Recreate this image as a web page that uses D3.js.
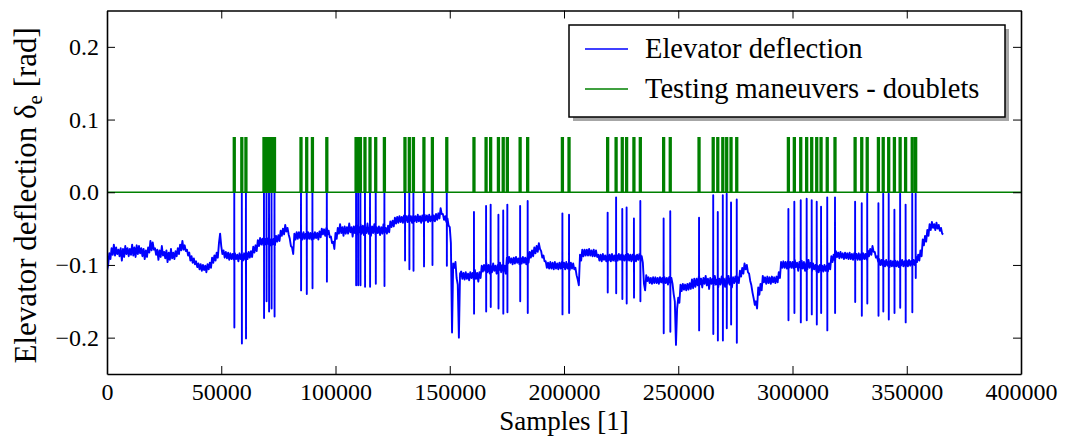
<!DOCTYPE html>
<html>
<head>
<meta charset="utf-8">
<script src="https://cdn.jsdelivr.net/npm/d3@7"></script>
<style>
  html, body { margin: 0; padding: 0; background: #ffffff; }
  svg { display: block; }
  text { font-family: "Liberation Serif", "Times New Roman", serif; fill: #000; }
</style>
</head>
<body>
<svg id="chart" width="1065" height="438"></svg>
<script>
// ---------------- DATA ----------------
const seriesNames = ["Elevator deflection", "Testing maneuvers - doublets"];
const xTickValues = [0, 50000, 100000, 150000, 200000, 250000, 300000, 350000, 400000];
const yTickValues = [-0.2, -0.1, 0.0, 0.1, 0.2];
const yTickLabels = ["\u22120.2", "\u22120.1", "0.0", "0.1", "0.2"];

// elevator deflection, one reading every 500 samples, starting at sample 0
const elevatorStep = 500;
const elevatorValues = [
  -0.108,-0.100,-0.084,-0.092,-0.077,-0.086,-0.072,-0.087,-0.076,-0.085,
  -0.079,-0.088,-0.077,-0.094,-0.078,-0.089,-0.074,-0.085,-0.077,-0.088,
  -0.078,-0.086,-0.072,-0.087,-0.076,-0.089,-0.073,-0.085,-0.074,-0.084,
  -0.077,-0.088,-0.078,-0.092,-0.080,-0.089,-0.076,-0.083,-0.067,-0.080,
  -0.069,-0.079,-0.077,-0.086,-0.079,-0.093,-0.080,-0.089,-0.074,-0.087,
  -0.082,-0.091,-0.080,-0.096,-0.083,-0.093,-0.078,-0.091,-0.083,-0.092,
  -0.081,-0.088,-0.077,-0.085,-0.072,-0.080,-0.067,-0.079,-0.073,-0.081,
  -0.079,-0.087,-0.083,-0.094,-0.088,-0.097,-0.091,-0.099,-0.095,-0.103,
  -0.098,-0.106,-0.099,-0.108,-0.100,-0.107,-0.101,-0.110,-0.099,-0.106,
  -0.097,-0.104,-0.090,-0.097,-0.087,-0.094,-0.083,-0.090,-0.070,-0.057,
  -0.074,-0.085,-0.080,-0.090,-0.082,-0.091,-0.083,-0.093,-0.084,-0.092,
  -0.085,-0.093,-0.084,-0.092,-0.086,-0.095,-0.084,-0.092,-0.085,-0.094,
  -0.084,-0.093,-0.083,-0.092,-0.082,-0.090,-0.081,-0.089,-0.075,-0.083,
  -0.073,-0.081,-0.066,-0.074,-0.063,-0.072,-0.064,-0.073,-0.064,-0.072,
  -0.063,-0.071,-0.064,-0.073,-0.063,-0.072,-0.064,-0.073,-0.060,-0.068,
  -0.059,-0.067,-0.053,-0.060,-0.050,-0.058,-0.045,-0.054,-0.049,-0.058,
  -0.064,-0.074,-0.076,-0.085,-0.057,-0.065,-0.055,-0.064,-0.055,-0.063,
  -0.056,-0.065,-0.055,-0.064,-0.057,-0.066,-0.055,-0.064,-0.056,-0.065,
  -0.056,-0.064,-0.055,-0.063,-0.056,-0.065,-0.054,-0.062,-0.050,-0.058,
  -0.051,-0.060,-0.049,-0.058,-0.053,-0.062,-0.061,-0.070,-0.068,-0.078,
  -0.056,-0.064,-0.049,-0.057,-0.044,-0.056,-0.048,-0.060,-0.047,-0.057,
  -0.048,-0.057,-0.043,-0.055,-0.048,-0.061,-0.047,-0.056,-0.045,-0.058,
  -0.047,-0.055,-0.044,-0.057,-0.046,-0.059,-0.048,-0.056,-0.043,-0.057,
  -0.048,-0.060,-0.047,-0.056,-0.044,-0.058,-0.048,-0.056,-0.047,-0.059,
  -0.048,-0.057,-0.044,-0.056,-0.049,-0.057,-0.046,-0.055,-0.040,-0.048,
  -0.039,-0.047,-0.035,-0.043,-0.034,-0.042,-0.033,-0.041,-0.034,-0.042,
  -0.032,-0.040,-0.033,-0.041,-0.032,-0.040,-0.033,-0.042,-0.032,-0.040,
  -0.033,-0.041,-0.031,-0.040,-0.033,-0.042,-0.032,-0.040,-0.031,-0.039,
  -0.032,-0.041,-0.031,-0.040,-0.033,-0.041,-0.032,-0.040,-0.030,-0.038,
  -0.029,-0.036,-0.022,-0.030,-0.030,-0.038,-0.033,-0.041,-0.036,-0.046,
  -0.048,-0.070,-0.193,-0.098,-0.104,-0.096,-0.118,-0.127,-0.200,-0.112,
  -0.109,-0.119,-0.111,-0.120,-0.110,-0.119,-0.112,-0.121,-0.110,-0.118,
  -0.111,-0.120,-0.107,-0.119,-0.111,-0.123,-0.110,-0.118,-0.101,-0.109,
  -0.100,-0.108,-0.097,-0.110,-0.100,-0.112,-0.101,-0.110,-0.098,-0.108,
  -0.101,-0.112,-0.100,-0.108,-0.097,-0.110,-0.100,-0.109,-0.101,-0.112,
  -0.090,-0.098,-0.089,-0.097,-0.091,-0.099,-0.090,-0.098,-0.089,-0.097,
  -0.091,-0.099,-0.090,-0.098,-0.089,-0.097,-0.090,-0.099,-0.089,-0.097,
  -0.082,-0.090,-0.080,-0.088,-0.076,-0.084,-0.074,-0.082,-0.070,-0.078,
  -0.081,-0.090,-0.087,-0.095,-0.095,-0.104,-0.097,-0.105,-0.096,-0.105,
  -0.097,-0.106,-0.096,-0.105,-0.098,-0.106,-0.097,-0.105,-0.096,-0.104,
  -0.097,-0.106,-0.096,-0.105,-0.098,-0.107,-0.097,-0.105,-0.098,-0.106,
  -0.104,-0.114,-0.120,-0.128,-0.086,-0.094,-0.079,-0.088,-0.079,-0.087,
  -0.079,-0.087,-0.078,-0.087,-0.080,-0.088,-0.079,-0.088,-0.080,-0.089,
  -0.086,-0.094,-0.086,-0.095,-0.085,-0.093,-0.087,-0.095,-0.086,-0.094,
  -0.086,-0.095,-0.085,-0.094,-0.087,-0.095,-0.086,-0.094,-0.085,-0.093,
  -0.086,-0.095,-0.087,-0.094,-0.086,-0.095,-0.085,-0.094,-0.086,-0.095,
  -0.086,-0.094,-0.087,-0.095,-0.086,-0.093,-0.085,-0.094,-0.088,-0.097,
  -0.126,-0.135,-0.114,-0.122,-0.117,-0.125,-0.118,-0.126,-0.117,-0.125,
  -0.117,-0.125,-0.118,-0.126,-0.117,-0.124,-0.118,-0.126,-0.117,-0.125,
  -0.118,-0.127,-0.117,-0.125,-0.118,-0.126,-0.140,-0.150,-0.210,-0.160,
  -0.145,-0.152,-0.127,-0.136,-0.126,-0.134,-0.127,-0.135,-0.126,-0.134,
  -0.125,-0.133,-0.120,-0.132,-0.119,-0.130,-0.119,-0.128,-0.116,-0.127,
  -0.119,-0.131,-0.118,-0.126,-0.115,-0.128,-0.119,-0.133,-0.118,-0.126,
  -0.119,-0.128,-0.115,-0.127,-0.120,-0.131,-0.119,-0.127,-0.116,-0.126,
  -0.119,-0.130,-0.118,-0.126,-0.115,-0.127,-0.118,-0.131,-0.117,-0.125,
  -0.116,-0.124,-0.117,-0.125,-0.108,-0.116,-0.104,-0.112,-0.098,-0.106,
  -0.100,-0.110,-0.112,-0.122,-0.128,-0.138,-0.146,-0.155,-0.150,-0.160,
  -0.131,-0.141,-0.126,-0.135,-0.115,-0.124,-0.117,-0.126,-0.116,-0.125,
  -0.117,-0.126,-0.116,-0.124,-0.117,-0.125,-0.116,-0.124,-0.110,-0.118,
  -0.096,-0.104,-0.095,-0.104,-0.096,-0.105,-0.095,-0.104,-0.096,-0.104,
  -0.096,-0.105,-0.093,-0.103,-0.097,-0.108,-0.096,-0.104,-0.094,-0.105,
  -0.096,-0.108,-0.097,-0.106,-0.093,-0.104,-0.097,-0.109,-0.098,-0.106,
  -0.100,-0.109,-0.101,-0.110,-0.100,-0.108,-0.101,-0.109,-0.100,-0.108,
  -0.101,-0.109,-0.098,-0.106,-0.088,-0.096,-0.086,-0.094,-0.081,-0.089,
  -0.083,-0.091,-0.082,-0.090,-0.084,-0.092,-0.083,-0.091,-0.084,-0.092,
  -0.083,-0.092,-0.085,-0.093,-0.084,-0.092,-0.085,-0.093,-0.084,-0.093,
  -0.085,-0.093,-0.084,-0.092,-0.085,-0.093,-0.080,-0.088,-0.078,-0.086,
  -0.074,-0.082,-0.082,-0.090,-0.088,-0.096,-0.092,-0.100,-0.093,-0.101,
  -0.094,-0.102,-0.093,-0.101,-0.095,-0.103,-0.094,-0.102,-0.095,-0.103,
  -0.094,-0.102,-0.095,-0.103,-0.094,-0.101,-0.093,-0.102,-0.095,-0.103,
  -0.094,-0.102,-0.093,-0.101,-0.094,-0.102,-0.093,-0.100,-0.088,-0.096,
  -0.086,-0.094,-0.080,-0.088,-0.065,-0.073,-0.060,-0.068,-0.052,-0.060,
  -0.044,-0.052,-0.041,-0.049,-0.044,-0.052,-0.042,-0.050,-0.045,-0.053,
  -0.049,-0.057,-0.058
];

// doublet maneuvers: sample where each starts, elevator peak up, elevator peak down
const doubletSamples = [
  55700, 59000, 60800, 68700, 69800, 70900, 72000, 73300, 84900, 87400,
  89900, 96200, 109000, 109900, 110900, 112900, 115100, 117600, 121400, 130400,
  132300, 134100, 138700, 142400, 148700, 160600, 165900, 167900, 171300, 173400,
  175200, 180800, 184100, 199300, 202200, 219100, 222800, 225500, 227400, 230600,
  233400, 243600, 246500, 259100, 265300, 267300, 269500, 271200, 273100, 275600,
  298200, 300800, 303600, 306200, 308400, 310600, 312500, 315200, 318600, 327400,
  330300, 332700, 337600, 339700, 342100, 344600, 347100, 349500, 352400, 353900
];
const doubletHigh = [
  0, 0, 0, 0, 0, 0, 0, 0, 0, 0,
  0, 0, 0, 0, 0, 0, 0, 0, 0, 0,
  0, 0, 0, 0, 0, -0.027, -0.019, -0.017, -0.031, -0.025,
  -0.017, -0.019, -0.012, -0.029, -0.031, -0.028, -0.007, -0.023, -0.021, -0.036,
  -0.012, -0.036, -0.026, -0.035, -0.004, -0.027, -0.004, -0.002, -0.014, -0.010,
  -0.023, -0.013, -0.011, -0.009, -0.011, -0.013, -0.020, -0.007, -0.007, -0.013,
  -0.015, -0.002, -0.015, -0.002, -0.002, -0.024, -0.002, -0.017, -0.002, -0.002
];
const doubletLow = [
  -0.186, -0.208, -0.201, -0.173, -0.150, -0.164, -0.160, -0.171, -0.135, -0.140,
  -0.132, -0.123, -0.128, -0.128, -0.128, -0.130, -0.130, -0.126, -0.129, -0.094,
  -0.106, -0.108, -0.102, -0.100, -0.101, -0.167, -0.164, -0.158, -0.160, -0.167,
  -0.165, -0.150, -0.166, -0.168, -0.166, -0.138, -0.139, -0.147, -0.153, -0.145,
  -0.150, -0.194, -0.192, -0.190, -0.195, -0.204, -0.204, -0.187, -0.182, -0.207,
  -0.176, -0.166, -0.179, -0.176, -0.168, -0.182, -0.166, -0.190, -0.166, -0.151,
  -0.170, -0.153, -0.170, -0.164, -0.175, -0.166, -0.159, -0.179, -0.165, -0.118
];
const doubletMarker = 0.075;     // height of the maneuver indicator
const maneuverRange = [0, 400000];

// ---------------- CHART ----------------
const svg = d3.select("#chart");
const W = 1065, H = 438;
const plot = { left: 107, right: 1021, top: 10.5, bottom: 374 };

const x = d3.scaleLinear().domain([0, 400000]).range([plot.left, plot.right]);
const y = d3.scaleLinear().domain([-0.25, 0.25]).range([plot.bottom, plot.top]);

svg.append("rect").attr("width", W).attr("height", H).attr("fill", "#fff");

// elevator series with doublets merged in (spikes rise and fall from the local reading)
const elevPts = elevatorValues.map((v, i) => ({ s: i * elevatorStep, v }));
doubletSamples.forEach((s, i) => {
  const base = elevatorValues[Math.floor(s / elevatorStep)];
  elevPts.push({ s: s - 20, v: base });
  elevPts.push({ s: s, v: doubletHigh[i] });
  elevPts.push({ s: s + 40, v: doubletLow[i] });
  elevPts.push({ s: s + 60, v: base });
});
elevPts.sort((a, b) => a.s - b.s);

// maneuver indicator series
const manPts = [{ s: maneuverRange[0], v: 0 }];
doubletSamples.forEach(s => {
  manPts.push({ s: s - 350, v: 0 });
  manPts.push({ s: s - 350, v: doubletMarker });
  manPts.push({ s: s + 350, v: doubletMarker });
  manPts.push({ s: s + 350, v: 0 });
});
manPts.push({ s: maneuverRange[1], v: 0 });

const line = d3.line().x(d => x(d.s)).y(d => y(d.v));

svg.append("defs").append("clipPath").attr("id", "clip")
  .append("rect").attr("x", plot.left).attr("y", plot.top)
  .attr("width", plot.right - plot.left).attr("height", plot.bottom - plot.top);

const g = svg.append("g").attr("clip-path", "url(#clip)");
g.append("path").datum(elevPts).attr("d", line)
  .attr("fill", "none").attr("stroke", "#0000ff").attr("stroke-width", 1.9)
  .attr("stroke-linejoin", "round");
g.append("path").datum(manPts).attr("d", line)
  .attr("fill", "none").attr("stroke", "#008000").attr("stroke-width", 1.7);

// axes
const tickFontSize = 24;
const xAxisB = d3.axisBottom(x).tickValues(xTickValues).tickFormat(d3.format("d"))
  .tickSizeInner(-8).tickSizeOuter(0).tickPadding(9);
const xAxisT = d3.axisTop(x).tickValues(xTickValues).tickFormat("")
  .tickSizeInner(-8).tickSizeOuter(0);
const yAxisL = d3.axisLeft(y).tickValues(yTickValues)
  .tickFormat((d, i) => yTickLabels[i]).tickSizeInner(-8).tickSizeOuter(0).tickPadding(8);
const yAxisR = d3.axisRight(y).tickValues(yTickValues).tickFormat("")
  .tickSizeInner(-8).tickSizeOuter(0);

function styleAxis(sel) {
  sel.select(".domain").attr("stroke", "#000").attr("stroke-width", 1.6);
  sel.selectAll(".tick line").attr("stroke", "#000").attr("stroke-width", 1);
  sel.selectAll(".tick text").attr("font-family", "Liberation Serif, serif")
    .attr("font-size", tickFontSize).attr("fill", "#000");
}
svg.append("g").attr("transform", `translate(0,${plot.bottom})`).call(xAxisB).call(styleAxis);
svg.append("g").attr("transform", `translate(0,${plot.top})`).call(xAxisT).call(styleAxis);
svg.append("g").attr("transform", `translate(${plot.left},0)`).call(yAxisL).call(styleAxis);
svg.append("g").attr("transform", `translate(${plot.right},0)`).call(yAxisR).call(styleAxis);

// axis labels
svg.append("text").attr("x", (plot.left + plot.right) / 2).attr("y", 430)
  .attr("text-anchor", "middle").attr("font-size", 27).text("Samples [1]");

const yl = svg.append("text")
  .attr("transform", `translate(36,${(plot.top + plot.bottom) / 2 + 3}) rotate(-90)`)
  .attr("text-anchor", "middle").attr("font-size", 31);
yl.append("tspan").text("Elevator deflection \u03B4");
yl.append("tspan").attr("font-size", 21).attr("dy", 6).text("e");
yl.append("tspan").attr("dy", -6).text(" [rad]");

// legend
const leg = { x: 569, y: 25, w: 436, h: 92 };
svg.append("rect").attr("x", leg.x + 4).attr("y", leg.y + 4)
  .attr("width", leg.w).attr("height", leg.h).attr("fill", "#a6a6a6");
svg.append("rect").attr("x", leg.x).attr("y", leg.y)
  .attr("width", leg.w).attr("height", leg.h)
  .attr("fill", "#fff").attr("stroke", "#000").attr("stroke-width", 1.5);
const legColors = ["#0000ff", "#008000"];
seriesNames.forEach((name, i) => {
  const ly = 49 + i * 40;
  svg.append("line").attr("x1", 585).attr("x2", 628).attr("y1", ly).attr("y2", ly)
    .attr("stroke", legColors[i]).attr("stroke-width", 1.6);
  svg.append("text").attr("x", 645).attr("y", ly + 9).attr("font-size", 28.5).text(name);
});
</script>
</body>
</html>
